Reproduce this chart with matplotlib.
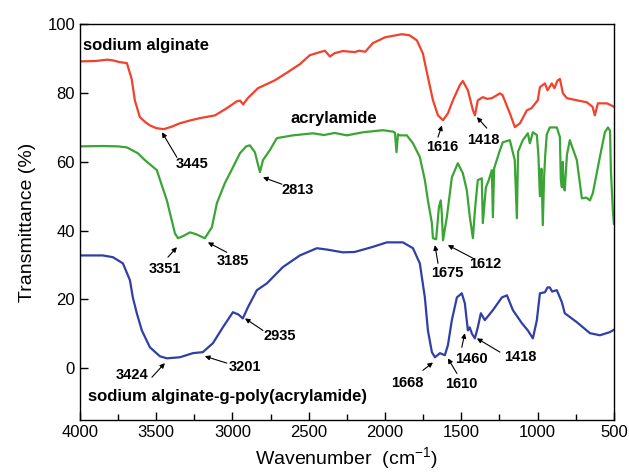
import matplotlib
matplotlib.use("Agg")
from matplotlib import pyplot as plt
from matplotlib.ticker import MultipleLocator

plt.rcParams["font.family"] = ["Liberation Sans", "DejaVu Sans"]
plt.rcParams["mathtext.fontset"] = "custom"
plt.rcParams["mathtext.rm"] = "Liberation Sans"

# sodium alginate (red)
sa_wn = [4000, 3900, 3820, 3784, 3740, 3692, 3660, 3640, 3607, 3570, 3541, 3500, 3450,
         3400, 3345, 3280, 3214, 3115, 3040, 2971, 2950, 2930, 2900, 2833, 2722, 2640,
         2558, 2493, 2427, 2394, 2361, 2330, 2276, 2200, 2170, 2130, 2080, 2000, 1890,
         1840, 1791, 1752, 1719, 1686, 1653, 1620, 1588, 1555, 1510, 1490, 1457, 1424,
         1411, 1392, 1359, 1330, 1300, 1247, 1230, 1182, 1149, 1116, 1070, 1040, 999,
         985, 952, 935, 907, 890, 870, 854, 834, 808, 743, 677, 640, 625, 605, 546, 507, 500]
sa_t = [89.2, 89.3, 89.7, 89.5, 89.0, 88.7, 84.0, 77.9, 73.0, 71.5, 70.6, 69.8, 69.5,
        70.2, 71.2, 72.0, 72.7, 73.5, 75.5, 77.6, 77.8, 76.7, 78.5, 81.4, 83.7, 86.0,
        88.4, 91.0, 91.9, 92.3, 90.6, 91.6, 92.2, 91.9, 92.3, 92.0, 94.5, 96.2, 97.1,
        96.8, 95.3, 91.5, 84.6, 77.9, 73.5, 72.1, 74.1, 77.9, 82.3, 83.5, 80.8, 75.0,
        73.5, 77.9, 78.8, 78.3, 78.5, 79.9, 79.4, 74.1, 70.1, 71.2, 75.0, 75.6, 77.9,
        81.7, 82.8, 80.8, 82.8, 81.4, 83.6, 84.1, 79.9, 78.5, 77.9, 77.3, 76.0, 73.5,
        77.0, 77.0, 76.2, 76.0]

# acrylamide (green)
am_wn = [4000, 3850, 3750, 3692, 3620, 3574, 3496, 3430, 3377, 3357, 3320, 3279, 3240,
         3181, 3135, 3102, 3050, 2997, 2951, 2910, 2886, 2853, 2820, 2800, 2755, 2709,
         2604, 2473, 2400, 2330, 2250, 2145, 2014, 1950, 1935, 1925, 1915, 1903, 1857,
         1817, 1772, 1739, 1719, 1693, 1686, 1665, 1647, 1635, 1628, 1620, 1595, 1562,
         1523, 1490, 1464, 1444, 1424, 1411, 1392, 1366, 1359, 1339, 1320, 1300, 1293,
         1285, 1247, 1228, 1182, 1150, 1136, 1128, 1097, 1064, 1051, 1031, 1005, 995,
         985, 975, 966, 958, 950, 940, 920, 874, 854, 848, 841, 835, 830, 822, 808, 789,
         743, 710, 680, 657, 638, 592, 559, 539, 525, 520, 507, 500]
am_t = [64.5, 64.6, 64.5, 64.2, 62.5, 60.5, 57.6, 48.8, 39.2, 37.8, 38.5, 39.5, 39.0,
        37.8, 41.0, 48.0, 53.8, 58.4, 62.5, 64.5, 64.8, 62.8, 57.0, 60.5, 63.4, 66.9,
        67.7, 68.3, 67.8, 68.4, 67.7, 68.6, 69.2, 68.8, 68.5, 62.8, 68.0, 67.7, 67.7,
        65.4, 61.4, 54.7, 48.8, 42.2, 37.8, 37.5, 46.8, 48.8, 45.0, 37.2, 43.9, 55.5,
        59.6, 56.7, 51.7, 43.9, 37.8, 45.9, 54.7, 55.2, 42.2, 52.6, 54.7, 57.6, 43.9,
        58.1, 63.4, 65.7, 66.3, 60.5, 43.6, 63.0, 66.3, 68.3, 65.4, 68.6, 67.8, 62.0,
        50.0, 58.0, 41.6, 55.0, 62.0, 68.0, 70.0, 70.0, 67.2, 55.0, 52.6, 60.0, 53.0,
        51.7, 62.0, 66.3, 60.5, 49.4, 49.6, 48.8, 50.9, 61.4, 68.6, 70.0, 69.0, 57.6,
        45.9, 42.0]

# sodium alginate-g-poly(acrylamide) (blue)
gp_wn = [4000, 3850, 3784, 3718, 3672, 3653, 3627, 3594, 3541, 3476, 3430, 3345, 3259,
         3194, 3128, 3063, 2997, 2960, 2932, 2899, 2840, 2774, 2670, 2558, 2447, 2380,
         2276, 2200, 2087, 1988, 1883, 1817, 1772, 1739, 1719, 1693, 1673, 1640, 1608,
         1588, 1562, 1529, 1497, 1477, 1457, 1445, 1430, 1411, 1392, 1372, 1346, 1293,
         1234, 1201, 1162, 1103, 1064, 1031, 1005, 985, 952, 935, 920, 905, 874, 841,
         822, 743, 657, 592, 527, 500]
gp_t = [32.8, 32.8, 32.3, 30.5, 25.6, 20.6, 16.0, 11.0, 6.1, 3.5, 2.9, 3.2, 4.4,
        4.7, 7.3, 11.9, 16.3, 15.6, 14.5, 17.7, 22.7, 24.7, 29.4, 32.8, 34.9, 34.5,
        33.7, 33.8, 35.2, 36.6, 36.6, 34.9, 30.5, 20.6, 11.0, 4.7, 3.2, 4.4, 3.8,
        6.7, 14.0, 20.6, 21.8, 18.9, 11.0, 11.9, 10.0, 8.7, 11.9, 16.0, 14.0, 16.9,
        20.6, 21.2, 16.9, 13.1, 11.0, 8.7, 14.0, 21.8, 22.1, 23.5, 23.5, 22.3, 22.7, 19.2,
        16.0, 13.4, 10.2, 9.6, 10.5, 11.2]

# peak labels: text, arrow head, arrow tail, text position
peak_labels = [
    ("3445", (3462, 68.6), (3364, 61.3), (3266, 59.3)),
    ("2813", (2800, 55.5), (2676, 53.5), (2571, 51.7)),
    ("3351", (3364, 35.2), (3423, 32.3), (3443, 29.0)),
    ("3185", (3161, 36.6), (3037, 33.7), (2997, 31.1)),
    ("2935", (2918, 14.5), (2800, 11.0), (2689, 9.3)),
    ("3424", (3443, 1.5), (3528, -2.6), (3659, -2.0)),
    ("3201", (3181, 3.5), (3037, 1.5), (2919, 0.3)),
    ("1616", (1627, 70.6), (1653, 67.2), (1627, 64.2)),
    ("1418", (1398, 73.0), (1333, 69.8), (1359, 66.3)),
    ("1675", (1673, 35.8), (1653, 30.5), (1595, 27.6)),
    ("1612", (1588, 35.8), (1424, 32.0), (1346, 30.2)),
    ("1668", (1686, 1.7), (1752, -0.6), (1857, -4.4)),
    ("1610", (1588, 2.9), (1529, -1.5), (1497, -4.7)),
    ("1460", (1477, 10.2), (1497, 6.1), (1431, 2.6)),
    ("1418", (1398, 8.7), (1247, 4.7), (1116, 3.2)),
]

fig = plt.figure(figsize=(6.29, 4.75), dpi=100)
ax = fig.add_axes([0.127, 0.116, 0.849, 0.833])

ax.plot(sa_wn, sa_t, color="#f2412c", lw=1.6)
ax.plot(am_wn, am_t, color="#3aa535", lw=1.6)
ax.plot(gp_wn, gp_t, color="#2f3fa6", lw=1.6)

ax.text(3980, 93.8, "sodium alginate", fontsize=12, fontweight="bold", va="center")
ax.text(2620, 72.7, "acrylamide", fontsize=12, fontweight="bold", va="center")
ax.text(3945, -8.3, "sodium alginate-g-poly(acrylamide)", fontsize=12,
        fontweight="bold", va="center")

for txt, head, tail, pos in peak_labels:
    ax.annotate("", xy=head, xytext=tail,
                arrowprops=dict(arrowstyle="-|>", color="black", lw=0.8,
                                mutation_scale=7, shrinkA=0, shrinkB=0))
    ax.text(pos[0], pos[1], txt, fontsize=10.5, fontweight="bold",
            ha="center", va="center")

ax.set_xlim(4000, 500)
ax.set_ylim(-15, 100)
ax.xaxis.set_major_locator(MultipleLocator(500))
ax.xaxis.set_minor_locator(MultipleLocator(250))
ax.set_yticks([0, 20, 40, 60, 80, 100])
ax.tick_params(direction="in", labelsize=12, length=6, width=1)
ax.tick_params(which="minor", direction="in", length=4, width=1)
for s in ax.spines.values():
    s.set_linewidth(1.0)

ax.set_xlabel("Wavenumber  (cm$^{-1}$)", fontsize=14, labelpad=4)
ax.set_ylabel("Transmittance (%)", fontsize=14, labelpad=8)

fig.savefig("out.png", dpi=100)
